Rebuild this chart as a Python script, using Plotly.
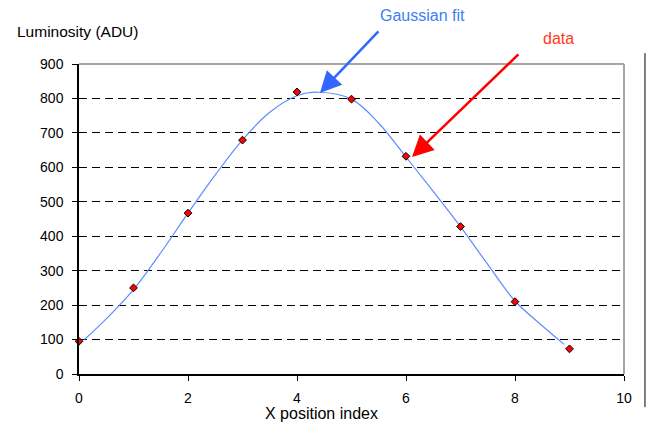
import plotly.graph_objects as go

# Measured data points
x_data = [0, 1, 2, 3, 4, 5, 6, 7, 8, 9]
y_data = [95, 250, 467, 679, 819, 798, 632, 428, 210, 73]

# Gaussian fit curve
x_fit = [0.1, 0.5, 1.0, 1.5, 2.0, 2.5, 3.0, 3.5, 4.0, 4.4, 5.0, 5.5, 6.0, 6.5, 7.0, 7.5, 8.0, 8.5, 8.9]
y_fit = [100, 160, 245, 352, 467, 578, 680, 760, 808, 818, 798, 728, 630, 530, 428, 318, 212, 140, 86]

x_ticks = [0, 2, 4, 6, 8, 10]
y_ticks = [0, 100, 200, 300, 400, 500, 600, 700, 800, 900]

FONT = "Liberation Sans, Arial, sans-serif"

fig = go.Figure()
fig.add_trace(go.Scatter(x=x_fit, y=y_fit, mode="lines",
                         line=dict(color="#5B8CFF", width=1.2, shape="spline"),
                         hoverinfo="skip", showlegend=False))
fig.add_trace(go.Scatter(x=x_data, y=y_data, mode="markers",
                         marker=dict(symbol="diamond", size=6, color="#FF0000",
                                     line=dict(color="#000000", width=1)),
                         showlegend=False, cliponaxis=False))

fig.update_layout(
    width=654, height=426,
    margin=dict(l=79, r=30, t=64, b=52),
    paper_bgcolor="white", plot_bgcolor="white",
    font=dict(family=FONT, size=14, color="black"),
    xaxis=dict(range=[0, 10], tickvals=x_ticks, showgrid=False, zeroline=False,
               showline=True, linecolor="black", linewidth=1.5,
               ticks="outside", ticklen=5, tickcolor="black", tickwidth=1,
               ticklabelstandoff=5),
    yaxis=dict(range=[0, 900], tickvals=y_ticks, showgrid=True,
               gridcolor="#000000", gridwidth=1, griddash="8px,5px",
               zeroline=False, showline=True, linecolor="black", linewidth=1.5,
               ticks="outside", ticklen=5, tickcolor="black", tickwidth=1,
               ticklabelstandoff=6),
    shapes=[
        dict(type="line", xref="paper", yref="paper", x0=0, x1=1, y0=1, y1=1,
             line=dict(color="#A6A6A6", width=2), layer="above"),
        dict(type="line", xref="paper", yref="paper", x0=1, x1=1, y0=0, y1=1,
             line=dict(color="#A6A6A6", width=2), layer="above"),
        dict(type="line", xref="paper", yref="paper", x0=1.0385, x1=1.0385, y0=-0.107, y1=1.035,
             line=dict(color="#000000", width=1)),
    ],
    annotations=[
        dict(text="Luminosity (ADU)", xref="paper", yref="paper", x=-0.118, y=1.106,
             xanchor="left", yanchor="middle", showarrow=False, font=dict(size=15.5)),
        dict(text="X position index", xref="paper", yref="paper", x=0.445, y=-0.128,
             xanchor="center", yanchor="middle", showarrow=False, font=dict(size=16)),
        dict(text="Gaussian fit", xref="paper", yref="paper", x=0.631, y=1.158,
             xanchor="center", yanchor="middle", showarrow=False, font=dict(size=16, color="#3D7FF0")),
        dict(text="data", xref="paper", yref="paper", x=0.880, y=1.081,
             xanchor="center", yanchor="middle", showarrow=False, font=dict(size=16, color="#FF3A1A")),
        dict(x=4.42, y=816, ax=5.52, ay=999, xref="x", yref="y", axref="x", ayref="y",
             showarrow=True, arrowhead=2, arrowsize=1.7, arrowwidth=2.5, arrowcolor="#3366FF",
             text=""),
        dict(x=6.11, y=630, ax=8.09, ay=932, xref="x", yref="y", axref="x", ayref="y",
             showarrow=True, arrowhead=2, arrowsize=1.7, arrowwidth=2.5, arrowcolor="#FF0000",
             text=""),
    ],
)

fig.write_html("out.html", config={"displayModeBar": False},
               post_script="document.body.style.margin='0';")
